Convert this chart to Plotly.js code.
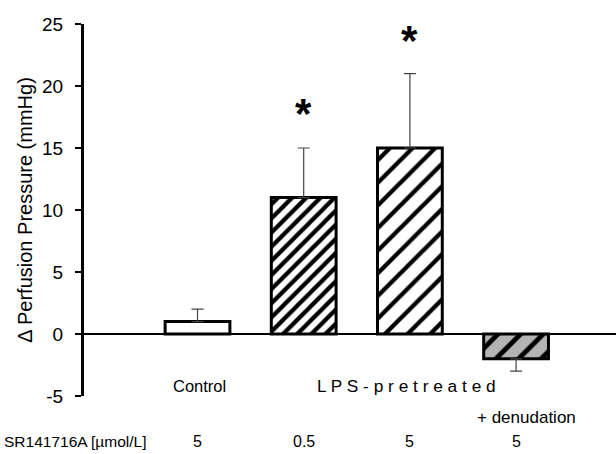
<!DOCTYPE html>
<html>
<head>
<meta charset="utf-8">
<script src="https://cdn.plot.ly/plotly-3.0.1.min.js"></script>
<style>html,body{margin:0;padding:0;background:#fff;}#chart{width:616px;height:454px;}</style>
</head>
<body>
<div id="chart"></div>
<script>
// ---- data ----
var categories = ["Control", "LPS 0.5", "LPS 5", "LPS 5 + denudation"];
var values = [1, 11, 15, -2];
var errorsUp = [1, 4, 6, 0];
var errorsDown = [0, 0, 0, 1];
var doses = ["5", "0.5", "5", "5"];
var doseLabel = "SR141716A [µmol/L]";
var groupLabels = ["Control", "L P S - p r e t r e a t e d", "+ denudation"];
var asteriskY = [18.2, 24.1];   // positions of significance marks (bars 2 and 3)
var yTicks = [-5, 0, 5, 10, 15, 20, 25];

var FONT = "Liberation Sans, Arial, sans-serif";

var trace = {
  type: "bar",
  x: categories,
  y: values,
  width: 0.61,
  marker: {
    color: "white",
    line: {color: "black", width: 3},
    pattern: {
      shape: ["", "/", "/", "/"],
      size: [10, 10, 16, 16],
      solidity: [0.3, 0.42, 0.27, 0.3],
      fgcolor: "black",
      bgcolor: ["white", "white", "white", "#b4b4b4"],
      fillmode: "replace"
    }
  },
  error_y: {
    type: "data",
    symmetric: false,
    array: errorsUp,
    arrayminus: errorsDown,
    color: "#444444",
    thickness: 1.2,
    width: 6
  },
  hoverinfo: "skip"
};

var annotations = [];
// group labels
annotations.push({x: 0, y: -4.2, xref: "x", yref: "y", text: groupLabels[0], showarrow: false,
  xshift: 2, font: {family: FONT, size: 16.5, color: "black"}});
annotations.push({x: 2, y: -4.2, xref: "x", yref: "y", text: groupLabels[1], showarrow: false,
  xshift: -3, font: {family: FONT, size: 17.3, color: "black"}});
annotations.push({x: 3, y: -0.0565, xref: "x", yref: "paper", text: groupLabels[2], showarrow: false,
  xshift: 10, yanchor: "middle", font: {family: FONT, size: 17, color: "black"}});
// dose row
for (var i = 0; i < doses.length; i++) {
  annotations.push({x: i, y: -0.121, xref: "x", yref: "paper", text: doses[i], showarrow: false,
    yanchor: "middle", font: {family: FONT, size: 16, color: "black"}});
}
annotations.push({x: -0.154, y: -0.121, xref: "paper", yref: "paper", text: doseLabel, showarrow: false,
  xanchor: "left", yanchor: "middle", font: {family: FONT, size: 15.5, color: "black"}});
// asterisks
annotations.push({x: 1, y: asteriskY[0], xref: "x", yref: "y", text: "<b>*</b>", showarrow: false,
  yanchor: "middle", yshift: -5, font: {family: FONT, size: 42, color: "black"}});
annotations.push({x: 2, y: asteriskY[1], xref: "x", yref: "y", text: "<b>*</b>", showarrow: false,
  yanchor: "middle", yshift: -5, font: {family: FONT, size: 42, color: "black"}});

var layout = {
  width: 616,
  height: 454,
  margin: {l: 84, r: 0, t: 24, b: 58, pad: 0},
  paper_bgcolor: "white",
  plot_bgcolor: "white",
  showlegend: false,
  font: {family: FONT, color: "black"},
  xaxis: {
    type: "category",
    range: [-1.069, 3.941],
    visible: true,
    showline: false,
    showgrid: false,
    zeroline: false,
    ticks: "",
    showticklabels: false,
    fixedrange: true
  },
  yaxis: {
    range: [-5, 25],
    tickvals: yTicks,
    ticktext: yTicks.map(String),
    ticks: "outside",
    ticklen: 6,
    tickwidth: 2,
    tickcolor: "black",
    showline: true,
    linewidth: 3,
    linecolor: "black",
    showgrid: false,
    zeroline: true,
    zerolinewidth: 2,
    zerolinecolor: "black",
    ticklabelstandoff: 8,
    tickfont: {family: FONT, size: 19, color: "black"},
    title: {text: "Δ Perfusion Pressure (mmHg)", font: {family: FONT, size: 20, color: "black"}, standoff: 5},
    fixedrange: true
  },
  annotations: annotations
};

Plotly.newPlot("chart", [trace], layout, {staticPlot: true, displayModeBar: false});
</script>
</body>
</html>
